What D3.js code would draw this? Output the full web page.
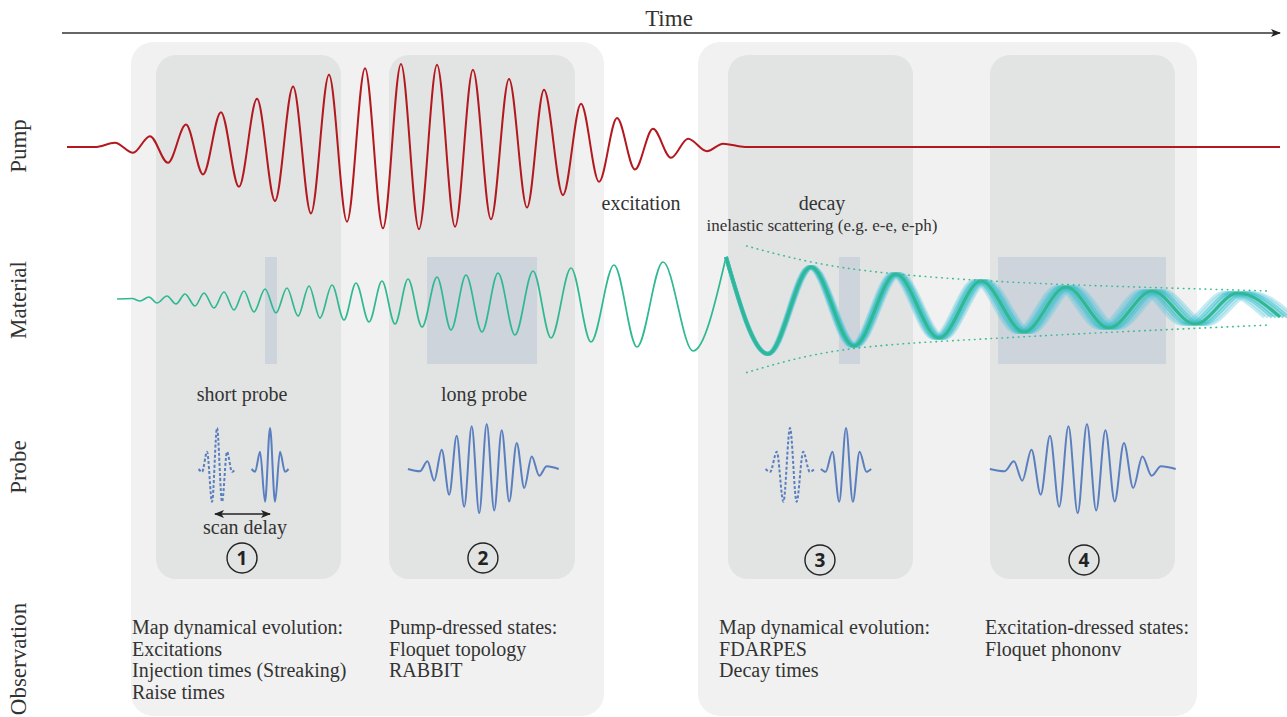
<!DOCTYPE html>
<html><head><meta charset="utf-8">
<script src="https://cdn.jsdelivr.net/npm/d3@7"></script>
<style>
body{margin:0;background:#fff}
svg{display:block}
text{font-family:"Liberation Serif","Times New Roman",serif;fill:#333}
</style>
</head><body><svg id="c" width="1287" height="717"></svg>
<script>
// ---------------- DATA (time in arbitrary units 0..100, amplitudes normalised) ----------------
const rowLabels = ["Pump", "Material", "Probe", "Observation"];

// pump field extrema
const pumpT = [0.41,2.71,4.35,5.83,7.22,8.70,10.18,11.58,13.05,14.53,16.01,17.49,18.97,20.44,21.92,23.40,24.88,26.35,27.83,29.31,30.79,32.27,33.74,35.22,36.70,38.18,39.57,41.13,42.61,44.09,45.57,47.04,48.52,50.00,51.40,52.96,54.27,56.08,100];
const pumpA = [0,0,0.05,-0.07,0.13,-0.19,0.27,-0.33,0.42,-0.48,0.58,-0.65,0.73,-0.80,0.87,-0.90,0.95,-0.98,1.00,-0.99,0.99,-0.96,0.93,-0.87,0.82,-0.73,0.69,-0.58,0.52,-0.42,0.35,-0.27,0.22,-0.13,0.10,-0.05,0.04,0,0];

// material response extrema
const matT = [4.52,5.75,6.40,7.14,7.80,8.62,9.36,10.10,10.92,11.66,12.48,13.30,14.12,14.94,15.76,16.67,17.57,18.47,19.38,20.28,21.18,22.17,23.15,24.14,25.21,26.27,27.34,28.41,29.56,30.79,31.94,33.17,34.48,35.80,37.19,38.67,40.15,41.79,43.43,45.32,47.21,49.34,51.81,54.52,57.96,61.49,65.02,68.47,72.00,75.45,78.98,82.43,85.96,89.49,93.02,96.55,100];
const matA = [0.08,0.09,0.04,0.12,0.00,0.14,-0.02,0.18,-0.06,0.20,-0.10,0.22,-0.14,0.24,-0.18,0.28,-0.20,0.30,-0.26,0.34,-0.30,0.36,-0.34,0.40,-0.38,0.44,-0.42,0.48,-0.48,0.52,-0.54,0.56,-0.58,0.60,-0.64,0.64,-0.70,0.70,-0.78,0.76,-0.88,0.82,-0.96,0.92,-1.02,0.72,-0.86,0.58,-0.70,0.44,-0.58,0.32,-0.50,0.24,-0.42,0.20,-0.28];
const decayStart = 54.52;

// decay envelope (dotted)
const envT = [56.21,64.09,74.88,85.71,99.18];
const envTop = [1.14,0.71,0.46,0.34,0.24];
const envBottom = [-1.39,-0.94,-0.73,-0.59,-0.44];

// probe pulse shapes (time in half-periods, normalised amplitude)
const shortProbeT = [-3.7,-3,-2,-1,0,1,2,3,3.7];
const shortProbeA = [0,-0.07,0.42,-0.8,1,-0.8,0.42,-0.07,0];
const longProbeT = [-10.5,-8.9,-7.9,-7,-6,-5,-4,-3,-2,-1,0,1,2,3,4,5,6,7,8,9.6];
const longProbeA = [0,-0.05,0.17,-0.26,0.43,-0.57,0.74,-0.84,0.95,-0.98,1,-0.92,0.86,-0.72,0.58,-0.42,0.28,-0.15,0.06,0];

// probe windows on the material trace
const windowStart = [16.67,29.97,63.79,76.85];
const windowEnd   = [17.65,39.00,65.52,90.64];

// stages
const stageStart = [7.72,26.85,54.68,76.19];
const stageEnd   = [22.91,42.12,69.87,91.38];
const stageNum   = ["1","2","3","4"];
const stageMark  = [14.78,34.56,62.23,83.91];
const groupStart = [5.67,52.22];
const groupEnd   = [44.50,93.19];

const probeNames = ["short probe","long probe"];
const obsText = [
  ["Map dynamical evolution:","Excitations","Injection times (Streaking)","Raise times"],
  ["Pump-dressed states:","Floquet topology","RABBIT"],
  ["Map dynamical evolution:","FDARPES","Decay times"],
  ["Excitation-dressed states:","Floquet phononv"]
];
const obsStart = [5.75,26.85,53.95,75.79];

// ---------------- DRAWING ----------------
const svg = d3.select("#c");
const x = d3.scaleLinear().domain([0,100]).range([62,1280]);
const yPump = d3.scaleLinear().domain([-1,1]).range([230,64]);
const yMat = d3.scaleLinear().domain([-1,1]).range([353,253]);

const zip = (T,A) => T.map((t,i)=>({t, a:A[i]}));

// group backgrounds
groupStart.forEach((s,i)=>{
  svg.append("rect").attr("x",x(s)).attr("y",42).attr("width",x(groupEnd[i])-x(s))
    .attr("height",674).attr("rx",22).attr("fill","#f0f1f0");
});
stageStart.forEach((s,i)=>{
  svg.append("rect").attr("x",x(s)).attr("y",55).attr("width",x(stageEnd[i])-x(s))
    .attr("height",524).attr("rx",20).attr("fill","#e2e3e3");
});
windowStart.forEach((s,i)=>{
  svg.append("rect").attr("x",x(s)).attr("y",257).attr("width",x(windowEnd[i])-x(s))
    .attr("height",107).attr("fill","#cdd4dc");
});

// time arrow
const defs = svg.append("defs");
defs.append("marker").attr("id","ah").attr("viewBox","0 0 10 10").attr("refX",9).attr("refY",5)
  .attr("markerWidth",10).attr("markerHeight",10).attr("markerUnits","userSpaceOnUse").attr("orient","auto-start-reverse")
  .append("path").attr("d","M0,1 L10,5 L0,9 L2.5,5 Z").attr("fill","#222");
svg.append("line").attr("x1",x(0)).attr("x2",x(100)).attr("y1",33).attr("y2",33)
  .attr("stroke","#333").attr("stroke-width",1.3).attr("marker-end","url(#ah)");
svg.append("text").attr("x",669).attr("y",26).attr("text-anchor","middle").attr("font-size",23).text("Time");

// row labels
const rowY = [146,300,467,659];
rowLabels.forEach((l,i)=>{
  svg.append("text").attr("transform",`translate(26,${rowY[i]}) rotate(-90)`)
    .attr("text-anchor","middle").attr("font-size",23).text(l);
});

// pump
const lineP = d3.line().x(d=>x(d.t)).y(d=>yPump(d.a)).curve(d3.curveMonotoneX);
svg.append("path").attr("d",lineP(zip(pumpT,pumpA))).attr("fill","none")
  .attr("stroke","#b3181f").attr("stroke-width",2);

// material
const lineM = d3.line().x(d=>x(d.t)).y(d=>yMat(d.a)).curve(d3.curveMonotoneX);
const mat = zip(matT,matA);
const i0 = matT.findIndex(t=>t>=decayStart);
svg.append("path").attr("d",lineM(mat.slice(0,i0+1))).attr("fill","none")
  .attr("stroke","#2fb891").attr("stroke-width",1.7);
const thick = mat.slice(i0);
const t0 = decayStart;
const ks = [-4,4,-3,3,-2,2,-1,1];
ks.forEach(k=>{
  const s = k*0.007;
  const l = d3.line().x(d=>x(t0+(d.t-t0)*(1+s))).y(d=>yMat(d.a)).curve(d3.curveMonotoneX);
  svg.append("path").attr("d",l(thick)).attr("fill","none")
    .attr("stroke", Math.abs(k)>2 ? "#5cc9dc" : "#3cbfca")
    .attr("stroke-opacity", Math.abs(k)>2 ? 0.35 : 0.55).attr("stroke-width",3.8);
});
svg.append("path").attr("d",lineM(thick)).attr("fill","none")
  .attr("stroke","#30b894").attr("stroke-width",3.2);

// envelope
const lineE = d3.line().x(d=>x(d.t)).y(d=>yMat(d.a)).curve(d3.curveNatural);
[envTop,envBottom].forEach(E=>{
  svg.append("path").attr("d",lineE(zip(envT,E))).attr("fill","none")
    .attr("stroke","#3dbb92").attr("stroke-width",1.6).attr("stroke-dasharray","0.5 5")
    .attr("stroke-linecap","round");
});

// annotations
svg.append("text").attr("x",641).attr("y",210).attr("text-anchor","middle").attr("font-size",20).text("excitation");
svg.append("text").attr("x",822).attr("y",210).attr("text-anchor","middle").attr("font-size",20).text("decay");
svg.append("text").attr("x",822).attr("y",231).attr("text-anchor","middle").attr("font-size",17).text("inelastic scattering (e.g. e-e, e-ph)");
svg.append("text").attr("x",242).attr("y",401).attr("text-anchor","middle").attr("font-size",20).text(probeNames[0]);
svg.append("text").attr("x",484).attr("y",401).attr("text-anchor","middle").attr("font-size",20).text(probeNames[1]);

// probes
const probes = [
  {T:shortProbeT,A:shortProbeA,c:12.73,hp:0.41,amp:41,dash:true},
  {T:shortProbeT,A:shortProbeA,c:17.08,hp:0.41,amp:41,dash:false},
  {T:longProbeT,A:longProbeA,c:34.87,hp:0.616,amp:45,dash:false},
  {T:shortProbeT,A:shortProbeA,c:59.77,hp:0.542,amp:41,dash:true},
  {T:shortProbeT,A:shortProbeA,c:64.37,hp:0.558,amp:41,dash:false},
  {T:longProbeT,A:longProbeA,c:84.15,hp:0.759,amp:45,dash:false}
];
probes.forEach(p=>{
  const yP = d3.scaleLinear().domain([-1,1]).range([469+p.amp,469-p.amp]);
  const l = d3.line().x(d=>x(p.c+d.t*p.hp)).y(d=>yP(d.a)).curve(d3.curveMonotoneX);
  svg.append("path").attr("d",l(zip(p.T,p.A))).attr("fill","none")
    .attr("stroke","#5a7fbf").attr("stroke-width",2)
    .attr("stroke-dasharray",p.dash?"3 2":null);
});

// scan delay arrow
svg.append("line").attr("x1",215).attr("x2",270).attr("y1",514).attr("y2",514)
  .attr("stroke","#222").attr("stroke-width",1.3)
  .attr("marker-start","url(#ah)").attr("marker-end","url(#ah)");
svg.append("text").attr("x",245).attr("y",534).attr("text-anchor","middle").attr("font-size",20).text("scan delay");

// stage numbers
const numY = [558,558,560,560];
stageMark.forEach((m,i)=>{
  svg.append("circle").attr("cx",x(m)).attr("cy",numY[i]).attr("r",15)
    .attr("fill","none").attr("stroke","#222").attr("stroke-width",1.4);
  svg.append("text").attr("x",x(m)).attr("y",numY[i]+6.5).attr("text-anchor","middle")
    .attr("font-size",19).attr("font-weight","bold").style("font-family","'Open Sans',sans-serif")
    .style("fill","#222").text(stageNum[i]);
});

// observations
obsText.forEach((lines,i)=>{
  lines.forEach((s,j)=>{
    svg.append("text").attr("x",x(obsStart[i])).attr("y",634+j*21.5).attr("font-size",20).text(s);
  });
});
</script></body></html>
